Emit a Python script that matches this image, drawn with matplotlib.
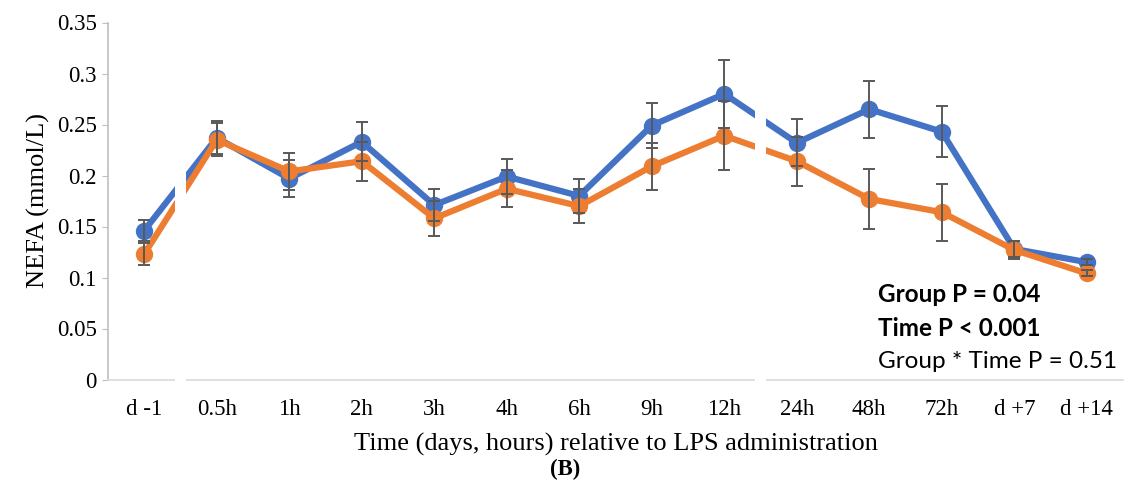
import matplotlib
matplotlib.use("Agg")
import matplotlib.pyplot as plt
from matplotlib.patches import Rectangle

# --- Data ---
times = ["d -1", "0.5h", "1h", "2h", "3h", "4h", "6h", "9h", "12h",
         "24h", "48h", "72h", "d +7", "d +14"]
blue_mean = [0.146, 0.237, 0.197, 0.233, 0.171, 0.199, 0.180, 0.249, 0.280,
             0.232, 0.265, 0.243, 0.128, 0.115]
blue_err = [0.010, 0.016, 0.018, 0.019, 0.016, 0.017, 0.017, 0.022, 0.033,
            0.023, 0.028, 0.025, 0.008, 0.003]
orange_mean = [0.123, 0.235, 0.204, 0.214, 0.158, 0.187, 0.170, 0.209, 0.239,
               0.214, 0.177, 0.164, 0.127, 0.104]
orange_err = [0.011, 0.016, 0.018, 0.019, 0.017, 0.018, 0.017, 0.023, 0.034,
              0.024, 0.029, 0.028, 0.009, 0.003]
y_ticks = [0, 0.05, 0.1, 0.15, 0.2, 0.25, 0.3, 0.35]
y_tick_labels = ["0", "0.05", "0.1", "0.15", "0.2", "0.25", "0.3", "0.35"]
break_after = [0, 8]  # axis breaks between d -1/0.5h and 12h/24h
stats = [("Group P = 0.04", "bold"), ("Time P < 0.001", "bold"),
         ("Group * Time P = 0.51", "normal")]

BLUE = "#4472C4"
ORANGE = "#ED7D31"
ERR = "#595959"
SERIF = "Liberation Serif"

fig = plt.figure(figsize=(11.24, 4.96), dpi=100)
ax = fig.add_axes([108 / 1124, 1 - 379.5 / 496, 1015 / 1124, 357 / 496])

x = list(range(len(times)))
for mean, err, color in [(blue_mean, blue_err, BLUE), (orange_mean, orange_err, ORANGE)]:
    ax.plot(x, mean, color=color, lw=4.5, marker="o", ms=11.5, zorder=3)
    ax.errorbar(x, mean, yerr=err, fmt="none", ecolor=ERR, elinewidth=1.4,
                capsize=4.5, capthick=1.4, zorder=4)

# white gaps marking the broken time axis
for b in break_after:
    ax.add_patch(Rectangle((b + 0.5 - 0.08, -0.01), 0.16, 0.37, facecolor="white",
                           edgecolor="none", zorder=6, clip_on=False))

ax.set_xlim(-0.5, len(times) - 0.5)
ax.set_ylim(0, 0.35)
ax.set_xticks(x)
ax.set_xticklabels(times, fontfamily=SERIF, fontsize=16.5)
ax.set_yticks(y_ticks)
ax.set_yticklabels(y_tick_labels, fontfamily=SERIF, fontsize=16.5)
ax.tick_params(axis="x", length=0, pad=14)
ax.tick_params(axis="y", length=4, color="#bfbfbf", pad=4)

for side in ["top", "right"]:
    ax.spines[side].set_visible(False)
ax.spines["left"].set_color("#bfbfbf")
ax.spines["bottom"].set_color("#d9d9d9")
ax.spines["left"].set_linewidth(1.2)
ax.spines["bottom"].set_linewidth(1.2)

ax.set_ylabel("NEFA (mmol/L)", fontfamily=SERIF, fontsize=19, labelpad=5)
ax.set_xlabel("Time (days, hours) relative to LPS administration",
              fontfamily=SERIF, fontsize=19, labelpad=9)
fig.text(565 / 1124, 1 - 469 / 496, "(B)", fontfamily=SERIF, fontsize=16.5,
         fontweight="bold", ha="center", va="center")

for i, (txt, weight) in enumerate(stats):
    fig.text(878 / 1124, 1 - (294 + 34 * i) / 496, txt, fontfamily="Lato",
             fontsize=17.5, fontweight=weight, ha="left", va="center")

fig.savefig("out.png", dpi=100)
